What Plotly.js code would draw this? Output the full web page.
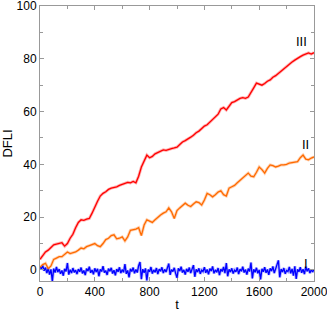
<!DOCTYPE html>
<html><head><meta charset="utf-8">
<script src="https://cdn.plot.ly/plotly-3.0.1.min.js"></script>
<style>html,body{margin:0;padding:0;background:#fff;}#plot{width:327px;height:312px;}</style>
</head><body><div id="plot"></div>
<script>
// series III (red) sampled every 20 in t
var seriesIII = [4,5.5,6.8,7.5,8.5,9.5,9.8,10,10.3,9,10,12,13.5,16,18,19,18.8,19.2,19.5,21.5,
24,26,28,29,29.6,30.5,31,31.2,31.5,32,32.5,33,33.2,33,33.5,33,35.5,39,41.5,43.5,
42.5,43,44,44.5,45,45.5,45.3,45.8,46,46.2,46.5,47.5,48.5,49,49.8,50.3,51,52,52.6,53.5,
54.5,55,56,57,57.8,59,61,61.5,60.6,61.8,63.4,63.8,64.5,65,65.3,65,65.5,67.5,69,70.8,
70.5,70,70.6,71.5,72,73,73.6,74.5,75.2,76,77,77.8,78.8,79.5,80.3,80.8,81.4,81.8,82.2,81.8,82.3];
// series II (orange) sampled every 20 in t
var seriesII = [1,2,2.5,0.5,1.5,4,4.5,5,5,5.8,6.8,6.2,6.4,6.8,7.5,8.3,8,8.8,9.2,9.5,
10,9.2,8.8,10,11.5,12,13,13.3,11.8,12,12.5,11,12.5,15,15.2,15.5,16,13,17,19,
18.5,18,19,20,20.8,21.5,22,23.5,22,19.5,22.5,23.5,24.5,25.3,24.5,24,25,25.8,25.5,24.6,
26.5,29,28.5,27.7,28.5,29.5,30,28.5,28,31,31.5,32,33,34,35,36,36.7,35.5,35.3,37,
39,38,36.7,38.5,39.8,39.5,39,39.3,39.8,39.8,40,40.5,40.6,40.8,41,42.5,43.5,42,41.7,42.4,42.8];
// series I (blue) sampled every 10 in t
var seriesI = [1.2,0.4,1.6,-0.3,0.9,-1.2,0.6,-1.8,0.2,-4.3,
0.5,-1.0,1.1,-0.8,0.3,-1.5,-0.2,-2.2,0.4,-0.6,
2.6,-1.8,0.1,-1.2,0.7,-0.9,-0.1,-1.6,0.3,-0.7,
0.9,-1.3,-0.2,-2.0,0.5,-0.4,1.2,-1.1,0.0,-1.7,
0.6,-0.8,0.4,-2.4,0.2,-0.6,1.4,-1.0,-0.3,-1.9,
0.5,-0.5,0.8,-1.4,-0.1,-2.1,0.3,-0.7,1.0,-1.2,
0.1,-0.9,2.2,-1.5,-0.2,-2.8,0.4,-0.6,0.9,-1.3,
0.2,-1.0,1.6,3.0,-3.5,0.3,-1.1,0.6,-4.0,0.1,
-0.7,1.1,-1.4,0.0,-0.9,0.7,-1.6,0.3,-0.5,1.0,
-1.2,0.2,-0.8,0.5,2.4,-1.9,0.1,-0.6,0.8,-1.3,
-3.0,0.6,-0.4,1.2,-1.0,0.0,-1.8,0.4,-0.7,0.9,
-1.2,0.3,1.8,-2.6,0.2,-0.8,0.6,-1.5,-0.1,-0.6,
1.0,-1.1,0.2,-1.7,0.5,-0.4,1.3,-1.3,0.0,-0.9,
0.7,-2.0,0.3,-0.6,1.1,-1.2,2.6,-2.4,0.2,-0.8,
0.6,-1.4,-0.1,-0.7,0.9,-1.6,0.3,-0.5,1.2,-1.0,
0.1,-1.8,0.5,-0.6,2.8,-3.2,0.2,-0.9,0.8,-1.3,
0.0,-3.6,0.4,-0.7,1.0,-1.1,0.2,-1.9,0.6,-0.4,
1.3,-1.2,0.1,2.0,3.6,-2.8,0.3,-0.8,0.7,-1.5,
-0.2,-0.6,1.1,-1.3,0.4,-2.2,1.4,-3.4,0.2,-0.7,
1.0,-1.1,0.3,-1.6,1.2,-0.5,0.6,-1.2,0.1,-0.8,
0.2];
var labels = ["I","II","III"];
var xTicks = [0,400,800,1200,1600,2000];
var yTicks = [0,20,40,60,80,100];

function tAxis(arr, tmax){ var s = tmax/(arr.length-1); return arr.map(function(_,i){return i*s;}); }

var colors = ['#0000ff','#ff6a00','#ff0000'];
var data = [seriesI, seriesII, seriesIII];
var traces = [];
data.forEach(function(d,i){
  traces.push({x: tAxis(d,2000), y: d, mode:'lines', line:{color:colors[i], width:3}, opacity:0.3, hoverinfo:'skip'});
});
data.forEach(function(d,i){
  traces.push({x: tAxis(d,2000), y: d, mode:'lines', line:{color:colors[i], width:1.3}});
});
var axCommon = {showgrid:false, zeroline:false, showline:true, linecolor:'#999', linewidth:1,
  mirror:'ticks', ticks:'inside', ticklen:4, tickcolor:'#999', automargin:false,
  ticklabeloverflow:'allow',
  tickfont:{family:'Liberation Sans, Arial, sans-serif', size:12, color:'#000'}};
var layout = {
 width:327, height:312, margin:{l:40, r:13, t:6, b:31},
 paper_bgcolor:'#fff', plot_bgcolor:'#fff', showlegend:false,
 font:{family:'Liberation Sans, Arial, sans-serif', color:'#000'},
 xaxis: Object.assign({}, axCommon, {range:[0,2000], tickvals:xTicks, ticktext:xTicks.map(String),
   minor:{dtick:200, ticklen:3, tickcolor:'#999', ticks:'inside'},
   title:{text:'t', font:{size:13, color:'#000'}, standoff:2}}),
 yaxis: Object.assign({}, axCommon, {range:[-4.2,100], tickvals:yTicks, ticktext:yTicks.map(String),
   minor:{dtick:10, ticklen:3, tickcolor:'#999', ticks:'inside'},
   title:{text:'DFLI', font:{size:13, color:'#000'}, standoff:6}}),
 annotations:[
  {x:1940, y:2.5, text:labels[0], showarrow:false, font:{size:13, color:'#000'}},
  {x:1935, y:47.5, text:labels[1], showarrow:false, font:{size:13, color:'#000'}},
  {x:1910, y:86.5, text:labels[2], showarrow:false, font:{size:13, color:'#000'}}
 ]
};
Plotly.newPlot('plot', traces, layout, {staticPlot:true, displayModeBar:false});
</script></body></html>
